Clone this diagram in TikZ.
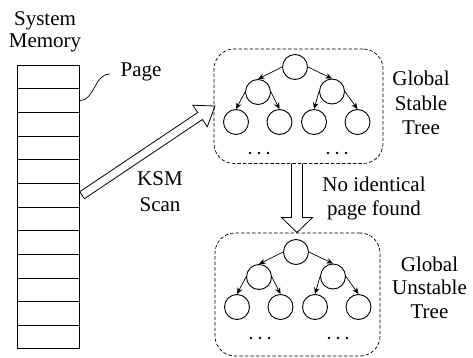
\documentclass[tikz,border=0pt]{standalone}
\usepackage{fontspec}
\setmainfont{Liberation Serif}
\usetikzlibrary{arrows.meta,calc}
\begin{document}
\begin{tikzpicture}[x=1pt,y=-1pt,
  memline/.style={draw, line width=0.8pt},
  tnode/.style={circle, draw, line width=0.9pt, minimum size=25pt, inner sep=0pt},
  tarrow/.style={-{Stealth[length=6.5pt,width=5.5pt]}, line width=0.7pt},
  dbox/.style={draw, dash pattern=on 3.5pt off 2pt, line width=0.7pt, rounded corners=20pt, inner sep=0pt},
  hollow/.style={draw, line width=0.8pt, line join=miter},
  lbl/.style={align=center, anchor=base, inner sep=0pt},
  pics/bintree/.style={code={
    \node[tnode] (-r) at (0,0) {};
    \node[tnode] (-a) at (-37,25) {};
    \node[tnode] (-b) at (37,24.5) {};
    \node[tnode] (-aa) at (-59,55) {};
    \node[tnode] (-ab) at (-15.5,55) {};
    \node[tnode] (-ba) at (19,55) {};
    \node[tnode] (-bb) at (62.5,55) {};
    \draw[tarrow] (-r.west) -- (-a.north);
    \draw[tarrow] (-r.east) -- (-b.north);
    \draw[tarrow] (-a.west) -- (-aa.north);
    \draw[tarrow] (-a.east) -- (-ab.north);
    \draw[tarrow] (-b.west) -- (-ba.north);
    \draw[tarrow] (-b.east) -- (-bb.north);
    \foreach \dx in {-45,-36,-27,33,42,51} \fill (\dx,86) circle (1.3pt);
  }}
]
\useasboundingbox (0,0) rectangle (473,358);

% memory
\node[memline, minimum width=62pt, minimum height=283.3pt, anchor=north west, inner sep=0pt] (mem) at (17.3,65) {};
\foreach \i in {1,...,11}
  \draw[line width=0.8pt] ($(mem.north west)!\i/12!(mem.south west)$) -- ($(mem.north east)!\i/12!(mem.south east)$);

% labels (base anchor = baseline of last line)
\node[lbl, font=\fontsize{21}{22}\selectfont] (sysmem) at (45,48) {System\\Memory};
\node[lbl, font=\fontsize{21}{24.5}\selectfont] (page) at (141,77) {Page};
\node[lbl, font=\fontsize{21}{26.7}\selectfont] (ksm) at (160,211.7) {KSM\\Scan};
\node[lbl, font=\fontsize{21}{23.3}\selectfont] (noid) at (374,215) {No identical\\page found};
\node[lbl, font=\fontsize{21}{24.5}\selectfont] (gst) at (421,135) {Global\\Stable\\Tree};
\node[lbl, font=\fontsize{21}{23.2}\selectfont] (gut) at (429.5,318) {Global\\Unstable\\Tree};

% page curve
\coordinate (pgstart) at ($(mem.north east)!1.5/12!(mem.south east)$);
\coordinate (pgend) at (110,74);
\draw[line width=0.7pt] (pgstart) .. controls (95,100) and (94,74) .. (pgend);

% boxes
\node[dbox, minimum width=169pt, minimum height=114.5pt] (sbox) at (298.5,106.25) {};
\node[dbox, minimum width=165pt, minimum height=123pt] (ubox) at (297.5,294.5) {};

% trees
\pic (st) at (295,67) {bintree};
\pic (ut) at (296,252) {bintree};

% KSM hollow arrow
\coordinate (ksmtail) at ($(mem.north east)!5.5/12!(mem.south east)+(2,0)$);
\coordinate (ksmtip) at (215,106);
\coordinate (ksmbase) at ($(ksmtip)!18pt!(ksmtail)$);
\draw[hollow] ($(ksmtail)!4.2pt!90:(ksmtip)$) -- ($(ksmbase)!4.2pt!90:(ksmtip)$)
  -- ($(ksmbase)!13pt!90:(ksmtip)$) -- (ksmtip)
  -- ($(ksmbase)!13pt!-90:(ksmtip)$) -- ($(ksmbase)!4.2pt!-90:(ksmtip)$)
  -- ($(ksmtail)!4.2pt!-90:(ksmtip)$) -- cycle;

% down hollow arrow
\coordinate (dtail) at (297,163.5);
\coordinate (dtip) at (297,232.5);
\coordinate (dbase) at ($(dtip)!15pt!(dtail)$);
\draw[hollow] ($(dtail)!5.5pt!90:(dtip)$) -- ($(dbase)!5.5pt!90:(dtip)$)
  -- ($(dbase)!15.5pt!90:(dtip)$) -- (dtip)
  -- ($(dbase)!15.5pt!-90:(dtip)$) -- ($(dbase)!5.5pt!-90:(dtip)$)
  -- ($(dtail)!5.5pt!-90:(dtip)$);
\end{tikzpicture}
\end{document}
